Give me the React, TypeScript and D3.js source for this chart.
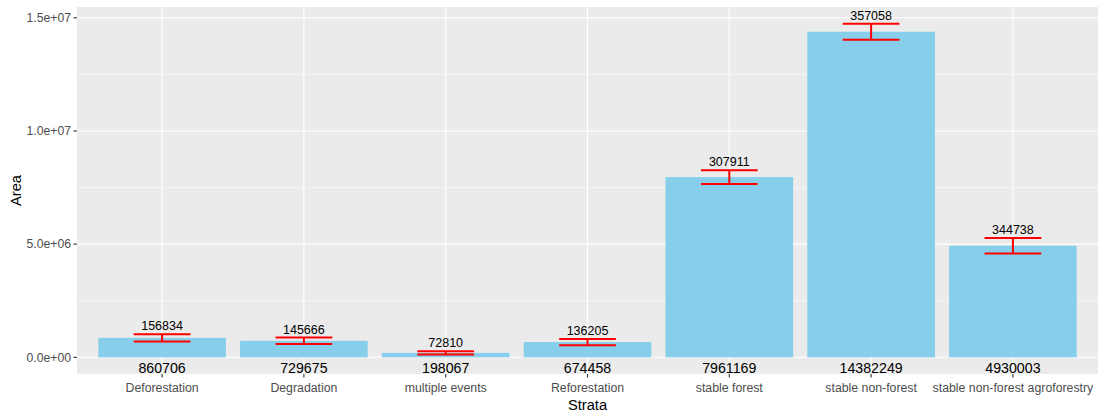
import React from 'react';
import * as d3 from 'd3';

const strata = ['Deforestation', 'Degradation', 'multiple events', 'Reforestation', 'stable forest', 'stable non-forest', 'stable non-forest agroforestry'];
const areas = [860706, 729675, 198067, 674458, 7961169, 14382249, 4930003];
const errors = [156834, 145666, 72810, 136205, 307911, 357058, 344738];
const yTicks = [0, 5e6, 1e7, 1.5e7];
const yTickLabels = ['0.0e+00', '5.0e+06', '1.0e+07', '1.5e+07'];
const yMinor = [2.5e6, 7.5e6, 1.25e7];

const W = 1106, H = 420;
const margin = {top: 7, right: 8, bottom: 46, left: 77};

const App = () => {
    const pw = W - margin.left - margin.right;
    const ph = H - margin.top - margin.bottom;

    const maxY = d3.max(areas.map((a, i) => a + errors[i])) as number;
    const span = maxY - 0;
    const y = d3.scaleLinear()
        .domain([0 - span * 0.05, maxY + span * 0.05])
        .range([ph, 0]);

    // ggplot-like discrete scale: 0.6 units padding each side
    const unit = pw / (strata.length - 1 + 1.2);
    const cx = (i) => unit * (0.6 + i);
    const barW = unit * 0.9;
    const errW = unit * 0.4;

    const font = 'Liberation Sans, Arial, sans-serif';

    return (
        <svg width={W} height={H} style={{position: 'absolute', left: 0, top: 0, fontFamily: font}}>
            <rect width={W} height={H} fill="white"/>
            <g transform={`translate(${margin.left},${margin.top})`}>
                <rect width={pw} height={ph} fill="#EBEBEB"/>
                {yMinor.map(t => (
                    <line key={'mn' + t} x1={0} x2={pw} y1={y(t)} y2={y(t)} stroke="white" strokeWidth={0.55}/>
                ))}
                {yTicks.map(t => (
                    <line key={'mj' + t} x1={0} x2={pw} y1={y(t)} y2={y(t)} stroke="white" strokeWidth={1.1}/>
                ))}
                {strata.map((s, i) => (
                    <line key={'vx' + i} x1={cx(i)} x2={cx(i)} y1={0} y2={ph} stroke="white" strokeWidth={1.1}/>
                ))}
                {areas.map((a, i) => (
                    <rect key={'b' + i} x={cx(i) - barW / 2} width={barW} y={y(a)} height={y(0) - y(a)} fill="#87CEEB"/>
                ))}
                {areas.map((a, i) => {
                    const hi = y(a + errors[i]), lo = y(a - errors[i]);
                    return (
                        <g key={'e' + i} stroke="red" strokeWidth={2} fill="none">
                            <line x1={cx(i) - errW / 2} x2={cx(i) + errW / 2} y1={hi} y2={hi}/>
                            <line x1={cx(i) - errW / 2} x2={cx(i) + errW / 2} y1={lo} y2={lo}/>
                            <line x1={cx(i)} x2={cx(i)} y1={hi} y2={lo}/>
                        </g>
                    );
                })}
                {errors.map((e, i) => (
                    <text key={'el' + i} x={cx(i)} y={y(areas[i] + e) - 4} textAnchor="middle" fontSize={12.5} fill="black">{e}</text>
                ))}
                {areas.map((a, i) => (
                    <text key={'vl' + i} x={cx(i)} y={y(0) + 15.5} textAnchor="middle" fontSize={14.2} fill="black">{a}</text>
                ))}
                {/* y axis */}
                {yTicks.map((t, i) => (
                    <g key={'yt' + t} transform={`translate(0,${y(t)})`}>
                        <line x1={-3.6} x2={0} stroke="#333333" strokeWidth={1.1}/>
                        <text x={-6} dy="0.35em" textAnchor="end" fontSize={12.2} fill="#4D4D4D">{yTickLabels[i]}</text>
                    </g>
                ))}
                {/* x axis */}
                {strata.map((s, i) => (
                    <g key={'xt' + i} transform={`translate(${cx(i)},${ph})`}>
                        <line y1={0} y2={3.6} stroke="#333333" strokeWidth={1.1}/>
                        <text y={18} textAnchor="middle" fontSize={12.3} fill="#4D4D4D">{s}</text>
                    </g>
                ))}
            </g>
            <text x={margin.left + pw / 2} y={410} textAnchor="middle" fontSize={14.7} fill="black">Strata</text>
            <text transform={`translate(21,${margin.top + ph / 2}) rotate(-90)`} textAnchor="middle" fontSize={14.7} fill="black">Area</text>
        </svg>
    );
};

export default App;
